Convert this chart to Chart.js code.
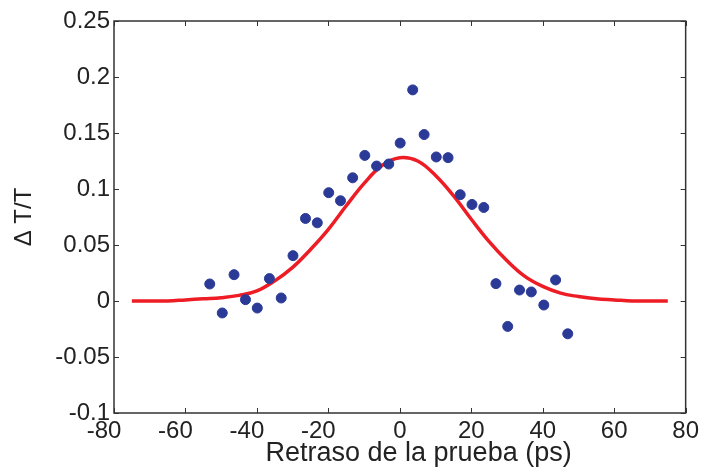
<!DOCTYPE html>
<html>
<head>
<meta charset="utf-8">
<script src="https://cdn.jsdelivr.net/npm/chart.js@4"></script>
<style>
  html, body { margin: 0; padding: 0; background: #fff; }
  #wrap { width: 703px; height: 474px; }
</style>
</head>
<body>
<div id="wrap"><canvas id="c" width="703" height="474"></canvas></div>
<script>
// measured points: probe delay (ps) vs ΔT/T
const delayPs = [-53.2, -49.7, -46.4, -43.2, -39.9, -36.5, -33.2, -29.9, -26.4, -23.1,
                 -19.9, -16.6, -13.2, -9.8, -6.5, -3.1, 0.1, 3.6, 6.8, 10.2,
                 13.5, 16.9, 20.2, 23.5, 26.9, 30.2, 33.5, 36.8, 40.3, 43.6, 47.0];
const deltaT = [0.0152, -0.0107, 0.0235, 0.0012, -0.0063, 0.0200, 0.0027, 0.0405, 0.0737, 0.0698,
                0.0967, 0.0895, 0.1100, 0.1300, 0.1205, 0.1223, 0.1410, 0.1885, 0.1486, 0.1286,
                0.1280, 0.0949, 0.0862, 0.0835, 0.0155, -0.0227, 0.0098, 0.0081, -0.0036, 0.0188, -0.0293];

// fit curve
const fitX = [-75, -70, -65, -60, -55, -50, -45, -40, -35, -30, -25, -20, -15, -10, -5, 0,
              5, 10, 15, 20, 25, 30, 35, 40, 45, 50, 55, 60, 65, 70, 75];
const fitY = [0.000, 0.000, 0.000, 0.001, 0.002, 0.003, 0.005, 0.009, 0.018, 0.030, 0.046, 0.064,
              0.085, 0.105, 0.121, 0.128, 0.125, 0.112, 0.094, 0.073, 0.053, 0.036, 0.022, 0.013,
              0.007, 0.004, 0.002, 0.001, 0.000, 0.000, 0.000];

const xTicks = [-80, -60, -40, -20, 0, 20, 40, 60, 80];
const yTicks = [-0.1, -0.05, 0, 0.05, 0.1, 0.15, 0.2, 0.25];

const FONT = "'Liberation Sans', Arial, Helvetica, sans-serif";
const AXIS = "#333333";

// frame with inward ticks on all four sides
const boxPlugin = {
    id: "box",
    afterDraw(chart) {
        const { ctx, chartArea: a, scales } = chart;
        const len = 5;
        ctx.save();
        ctx.strokeStyle = AXIS;
        ctx.lineWidth = 1.5;
        ctx.strokeRect(a.left, a.top, a.right - a.left, a.bottom - a.top);
        ctx.lineWidth = 1;
        ctx.beginPath();
        xTicks.forEach((v) => {
            const px = Math.round(scales.x.getPixelForValue(v)) + 0.5;
            ctx.moveTo(px, a.bottom); ctx.lineTo(px, a.bottom - len);
            ctx.moveTo(px, a.top); ctx.lineTo(px, a.top + len);
        });
        yTicks.forEach((v) => {
            const py = Math.round(scales.y.getPixelForValue(v)) + 0.5;
            ctx.moveTo(a.left, py); ctx.lineTo(a.left + len, py);
            ctx.moveTo(a.right, py); ctx.lineTo(a.right - len, py);
        });
        ctx.stroke();
        ctx.restore();
    },
};

new Chart(document.getElementById("c"), {
    type: "scatter",
    data: {
        datasets: [
            {
                label: "Datos",
                data: delayPs.map((x, i) => ({ x: x, y: deltaT[i] })),
                backgroundColor: "#2b3a97",
                borderColor: "#2b3a97",
                pointRadius: 5,
                pointHoverRadius: 5,
            },
            {
                type: "line",
                label: "Ajuste",
                data: fitX.map((x, i) => ({ x: x, y: fitY[i] })),
                borderColor: "#ee1c25",
                borderWidth: 3.5,
                pointRadius: 0,
                tension: 0.4,
                fill: false,
            },
        ],
    },
    plugins: [boxPlugin],
    options: {
        responsive: false,
        animation: false,
        layout: { padding: { top: 21, right: 16, left: 0, bottom: 0 } },
        plugins: { legend: { display: false }, tooltip: { enabled: false } },
        scales: {
            x: {
                type: "linear",
                min: -80,
                max: 80,
                afterBuildTicks: (s) => { s.ticks = xTicks.map((v) => ({ value: v })); },
                afterFit: (s) => { s.height = 61; },
                grid: { display: false, drawTicks: false },
                border: { display: false },
                ticks: {
                    color: "#222",
                    padding: 4,
                    maxRotation: 0,
                    font: { family: FONT, size: 24 },
                    callback: (v) => (v < 0 ? String(v) + "   " : String(v)),
                },
                title: {
                    display: true,
                    text: "     Retraso de la prueba (ps)",
                    color: "#222",
                    font: { family: FONT, size: 27 },
                    padding: { top: 0, bottom: 4 },
                },
            },
            y: {
                min: -0.1,
                max: 0.25,
                afterBuildTicks: (s) => { s.ticks = yTicks.map((v) => ({ value: v })); },
                afterFit: (s) => { s.width = 114; },
                grid: { display: false, drawTicks: false },
                border: { display: false },
                ticks: {
                    color: "#222",
                    padding: 4,
                    font: { family: FONT, size: 24 },
                    callback: (v) => String(Math.round(v * 100) / 100),
                },
                title: {
                    display: true,
                    text: "\u0394 T/T",
                    color: "#222",
                    font: { family: FONT, size: 24 },
                    padding: { top: 10, bottom: 0 },
                },
            },
        },
    },
});
</script>
</body>
</html>
